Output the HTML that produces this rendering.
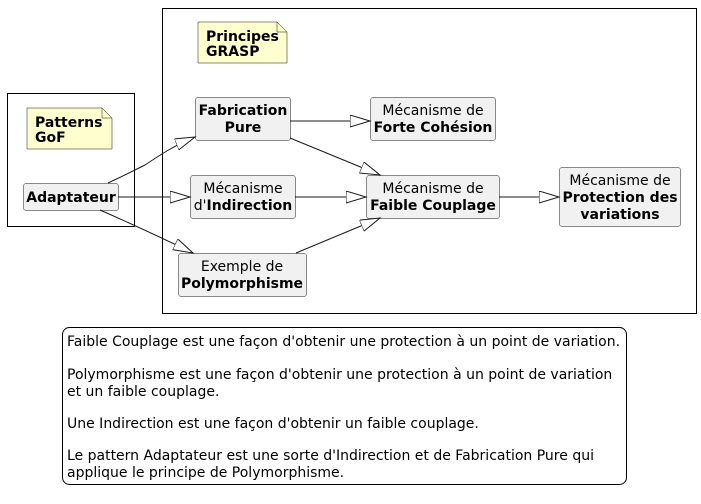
<!DOCTYPE html>
<html><head><meta charset="utf-8"><style>
html,body{margin:0;padding:0;background:#fff;}
svg{display:block;font-family:"DejaVu Sans","Liberation Sans",sans-serif;}
.n{fill:#f1f1f1;stroke:#181818;stroke-width:0.5;}
.t{font-size:14px;text-anchor:middle;fill:#000;}
.b{font-weight:bold;}
.e{fill:none;stroke:#181818;stroke-width:1;}
.note{fill:#fefece;stroke:#181818;stroke-width:0.5;}
</style></head><body>
<svg width="701" height="504" viewBox="0 0 701 504" xmlns="http://www.w3.org/2000/svg">
<defs>
<marker id="a" markerUnits="userSpaceOnUse" markerWidth="22" markerHeight="14" refX="20" refY="6" orient="auto">
<path d="M0,0 L20,6 L0,12 Z" fill="#fff" stroke="#181818" stroke-width="1"/>
</marker>
</defs>
<rect x="7.5" y="93.5" width="127" height="133" fill="none" stroke="#000" stroke-width="1"/>
<rect x="162.5" y="8.5" width="534" height="305" fill="none" stroke="#000" stroke-width="1"/>

<path class="note" d="M27,108 L102,108 L112,118 L112,149 L27,149 Z"/>
<path d="M102,108 L102,118 L112,118" fill="none" stroke="#181818" stroke-width="0.5"/>
<text x="35" y="127" font-size="14" font-weight="bold">Patterns</text>
<text x="35" y="142" font-size="14" font-weight="bold">GoF</text>

<path class="note" d="M198,22 L277,22 L287,32 L287,63 L198,63 Z"/>
<path d="M277,22 L277,32 L287,32" fill="none" stroke="#181818" stroke-width="0.5"/>
<text x="206" y="41" font-size="14" font-weight="bold">Principes</text>
<text x="206" y="56" font-size="14" font-weight="bold">GRASP</text>

<rect class="n" x="23.5" y="183.5" width="95" height="27" rx="2.5"/>
<text class="t b" x="71" y="202">Adaptateur</text>

<rect class="n" x="195.5" y="97.5" width="95" height="43" rx="2.5"/>
<text class="t b" x="243" y="115">Fabrication</text>
<text class="t b" x="243" y="132">Pure</text>

<rect class="n" x="190.5" y="175.5" width="105" height="43" rx="2.5"/>
<text class="t" x="243" y="193">Mécanisme</text>
<text class="t" x="243" y="210">d'<tspan class="b">Indirection</tspan></text>

<rect class="n" x="178.5" y="253.5" width="128" height="43" rx="2.5"/>
<text class="t" x="242" y="271">Exemple de</text>
<text class="t b" x="242" y="288">Polymorphisme</text>

<rect class="n" x="370.5" y="97.5" width="125" height="43" rx="2.5"/>
<text class="t" x="433" y="115">Mécanisme de</text>
<text class="t b" x="433" y="132">Forte Cohésion</text>

<rect class="n" x="366.5" y="175.5" width="133" height="43" rx="2.5"/>
<text class="t" x="433" y="193">Mécanisme de</text>
<text class="t b" x="433" y="210">Faible Couplage</text>

<rect class="n" x="559.5" y="167.5" width="121" height="59" rx="2.5"/>
<text class="t" x="620" y="185">Mécanisme de</text>
<text class="t b" x="620" y="202">Protection des</text>
<text class="t b" x="620" y="219">variations</text>

<path class="e" d="M108,183 C125,175 135,170 145,165 C160,155 175,145 195,137" marker-end="url(#a)"/>
<path class="e" d="M118,197 L190,197" marker-end="url(#a)"/>
<path class="e" d="M100,210 C125,221 150,232 193,253" marker-end="url(#a)"/>
<path class="e" d="M290,121 L370,121" marker-end="url(#a)"/>
<path class="e" d="M290,138 L380,175" marker-end="url(#a)"/>
<path class="e" d="M295,197 L366,197" marker-end="url(#a)"/>
<path class="e" d="M296,253 L380,218" marker-end="url(#a)"/>
<path class="e" d="M499,197 L559,197" marker-end="url(#a)"/>

<rect x="62.5" y="327.5" width="564" height="157" rx="7" fill="#fff" stroke="#000" stroke-width="1"/>
<g font-size="14" fill="#000">
<text x="67" y="346">Faible Couplage est une façon d'obtenir une protection à un point de variation.</text>
<text x="67" y="379">Polymorphisme est une façon d'obtenir une protection à un point de variation</text>
<text x="67" y="396">et un faible couplage.</text>
<text x="67" y="428">Une Indirection est une façon d'obtenir un faible couplage.</text>
<text x="67" y="460">Le pattern Adaptateur est une sorte d'Indirection et de Fabrication Pure qui</text>
<text x="67" y="477">applique le principe de Polymorphisme.</text>
</g>
</svg>
</body></html>
